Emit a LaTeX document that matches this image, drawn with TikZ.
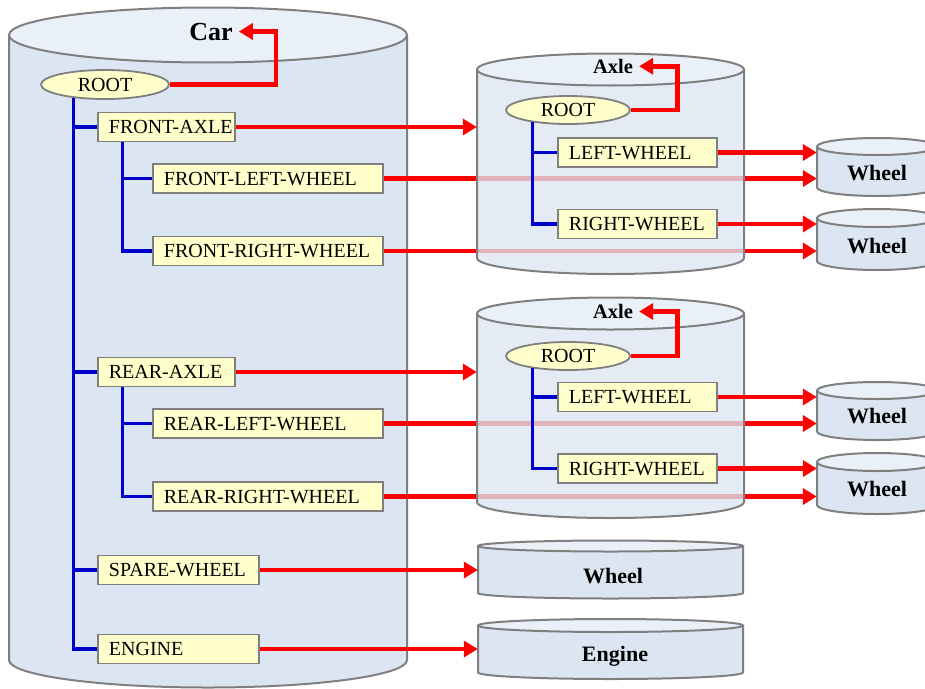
\documentclass[tikz,border=0pt]{standalone}
\usepackage{fontspec}
\setmainfont{Liberation Serif}
\usetikzlibrary{arrows.meta,shapes.geometric,calc}
\definecolor{cylbody}{HTML}{DCE6F2}
\definecolor{cyltop}{HTML}{EAF0F8}
\definecolor{cylline}{HTML}{7F7F7F}
\definecolor{boxfill}{HTML}{FFFFCC}
\definecolor{treeblue}{HTML}{0000CC}
\definecolor{refred}{HTML}{FF0000}
\hyphenpenalty=10000
\exhyphenpenalty=10000
\newcommand{\dgboxfont}{\fontsize{20}{24}\selectfont}
\newcommand{\drawcyl}[7]{%
  \pgfmathsetmacro{\cylcx}{(#2+#3)/2}%
  \pgfmathsetmacro{\cylrx}{(#3-#2)/2}%
  \pgfmathsetmacro{\cylcy}{(#4+#5)/2}%
  \pgfmathsetmacro{\cylw}{#3-#2}%
  \pgfmathsetmacro{\cylh}{#5-#4}%
  \fill[cylbody, fill opacity=#7] (#2,#4) -- (#2,#5) arc[start angle=180,end angle=360,x radius=\cylrx pt,y radius=#6pt] -- (#3,#4) arc[start angle=0,end angle=-180,x radius=\cylrx pt,y radius=#6pt] -- cycle;
  \draw[cylborder] (#2,#4) -- (#2,#5) arc[start angle=180,end angle=360,x radius=\cylrx pt,y radius=#6pt] -- (#3,#4);
  \draw[cylborder, fill=cyltop] (\cylcx,#4) ellipse[x radius=\cylrx pt, y radius=#6pt];
  \node[inner sep=0pt, minimum width=\cylw pt, minimum height=\cylh pt] (#1) at (\cylcx,\cylcy) {};
}
\tikzset{
  cylborder/.style={draw=cylline, line width=2pt},
  yellowbox/.style={draw=cylline, line width=1.8pt, fill=boxfill, anchor=west, minimum height=29pt, inner xsep=11pt, inner ysep=0pt, text height=13.5pt, text depth=0pt, align=left, text width=#1, font=\dgboxfont},
  rootell/.style={ellipse, draw=cylline, line width=1.8pt, fill=boxfill, inner sep=0pt, text height=13.5pt, text depth=0pt, font=\dgboxfont},
  treeline/.style={draw=treeblue, line width=3.5pt},
  refarrow/.style={draw=refred, line width=4.5pt, -{Triangle[length=14pt,width=16pt]}},
  cyllabel/.style={font=\bfseries\fontsize{22}{26}\selectfont, anchor=base, inner sep=0pt},
}
\begin{document}
\begin{tikzpicture}[x=1pt,y=-1pt]
\useasboundingbox (0,0) rectangle (925,688);
\clip (0,0) rectangle (925,688);

% ---- Car cylinder
\drawcyl{car}{9}{407}{35}{660}{27.5}{1}
\node[cyllabel, font=\bfseries\fontsize{26}{30}\selectfont, inner xsep=6pt] (carlbl) at (211,40) {Car};
\node[rootell, minimum width=128pt, minimum height=29pt] (croot) at (105,84.5) {ROOT};
\node[yellowbox=115pt] (fa) at (97,127) {FRONT-AXLE};
\node[yellowbox=208pt] (flw) at (152,178.5) {FRONT-LEFT-WHEEL};
\node[yellowbox=208pt] (frw) at (152,251) {FRONT-RIGHT-WHEEL};
\node[yellowbox=115pt] (ra) at (97,372) {REAR-AXLE};
\node[yellowbox=208pt] (rlw) at (152,423.5) {REAR-LEFT-WHEEL};
\node[yellowbox=208pt] (rrw) at (152,496.5) {REAR-RIGHT-WHEEL};
\node[yellowbox=139pt] (sw) at (97,570) {SPARE-WHEEL};
\node[yellowbox=139pt] (eng) at (97,649) {ENGINE};

\draw[treeline] (croot.203) |- (eng.west);
\draw[treeline] (croot.203) |- (fa.west);
\draw[treeline] (croot.203) |- (ra.west);
\draw[treeline] (croot.203) |- (sw.west);
\draw[treeline] ([xshift=25.7pt]fa.south west) |- (flw.west);
\draw[treeline] ([xshift=25.7pt]fa.south west) |- (frw.west);
\draw[treeline] ([xshift=25.7pt]ra.south west) |- (rlw.west);
\draw[treeline] ([xshift=25.7pt]ra.south west) |- (rrw.west);
\draw[refarrow] (croot.east) -| ([xshift=37pt]carlbl.east) -- (carlbl.east);

% ---- Wheel / Engine cylinders
\drawcyl{w1}{817}{937}{146.5}{187.5}{8.5}{1}
\node[cyllabel] (w1lbl) at (877,180) {Wheel};
\drawcyl{w2}{817}{937}{218}{261}{9}{1}
\node[cyllabel] (w2lbl) at (877,253) {Wheel};
\drawcyl{w3}{817}{937}{390.5}{431.5}{8.5}{1}
\node[cyllabel] (w3lbl) at (877,423) {Wheel};
\drawcyl{w4}{817}{937}{462}{505}{9}{1}
\node[cyllabel] (w4lbl) at (877,496.5) {Wheel};
\drawcyl{spare}{478}{743}{546}{593}{5.5}{1}
\node[cyllabel] (sparelbl) at (613,583) {Wheel};
\drawcyl{engc}{478}{743}{625.5}{672.5}{6.5}{1}
\node[cyllabel] (englbl) at (615,661) {Engine};

% ---- references passing behind the axles
\draw[refarrow] (flw.east) -- (flw.east -| w1.west);
\draw[refarrow] (frw.east) -- (frw.east -| w2.west);
\draw[refarrow] (rlw.east) -- (rlw.east -| w3.west);
\draw[refarrow] (rrw.east) -- (rrw.east -| w4.west);
\draw[refarrow] (sw.east) -- (sw.east -| spare.west);
\draw[refarrow] (eng.east) -- (eng.east -| engc.west);

% ---- Axle cylinders
\drawcyl{ax1}{477}{744}{69.5}{258}{16}{0.78}
\drawcyl{ax2}{477}{744}{313.5}{502}{16}{0.78}
\draw[refarrow] (fa.east) -- (fa.east -| ax1.west);
\draw[refarrow] (ra.east) -- (ra.east -| ax2.west);

% Axle 1 content
\node[cyllabel, font=\bfseries\fontsize{20.5}{24}\selectfont, inner xsep=6pt] (a1lbl) at (613,73.3) {Axle};
\node[rootell, minimum width=124pt, minimum height=28pt] (a1root) at (568,110) {ROOT};
\node[yellowbox=137pt] (lw1) at (557,152.5) {LEFT-WHEEL};
\node[yellowbox=137pt] (rw1) at (557,224) {RIGHT-WHEEL};
\draw[treeline] (a1root.199) |- (lw1.west);
\draw[treeline] (a1root.199) |- (rw1.west);
\draw[refarrow] (a1root.east) -| ([xshift=38.5pt]a1lbl.east) -- (a1lbl.east);
\draw[refarrow] (lw1.east) -- (lw1.east -| w1.west);
\draw[refarrow] (rw1.east) -- (rw1.east -| w2.west);

% Axle 2 content
\node[cyllabel, font=\bfseries\fontsize{20.5}{24}\selectfont, inner xsep=6pt] (a2lbl) at (613,318.5) {Axle};
\node[rootell, minimum width=124pt, minimum height=28pt] (a2root) at (568,356) {ROOT};
\node[yellowbox=137pt] (lw2) at (557,397) {LEFT-WHEEL};
\node[yellowbox=137pt] (rw2) at (557,468.5) {RIGHT-WHEEL};
\draw[treeline] (a2root.199) |- (lw2.west);
\draw[treeline] (a2root.199) |- (rw2.west);
\draw[refarrow] (a2root.east) -| ([xshift=38.5pt]a2lbl.east) -- (a2lbl.east);
\draw[refarrow] (lw2.east) -- (lw2.east -| w3.west);
\draw[refarrow] (rw2.east) -- (rw2.east -| w4.west);
\end{tikzpicture}
\end{document}
